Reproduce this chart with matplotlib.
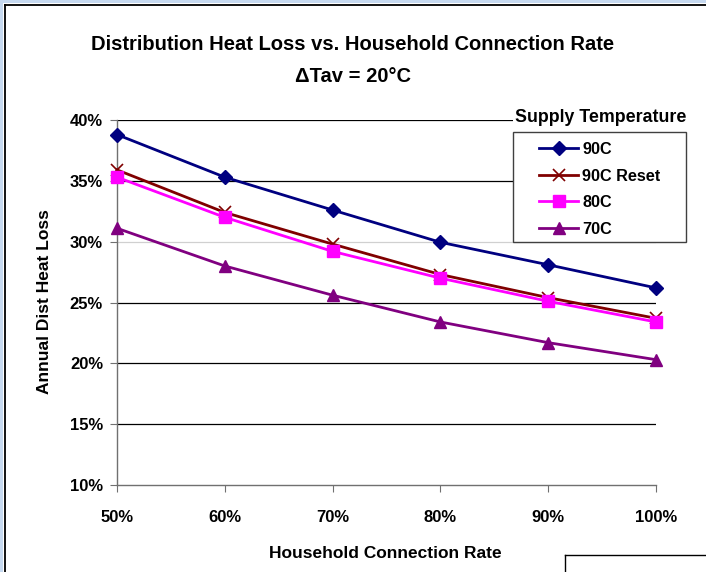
import matplotlib
matplotlib.use("Agg")
import matplotlib.pyplot as plt
from matplotlib.lines import Line2D
from matplotlib.patches import Rectangle

plt.rcParams['font.family'] = ['Liberation Sans', 'DejaVu Sans']

# connection rate (%)
rate = [50, 60, 70, 80, 90, 100]
# annual distribution heat loss (%)
loss_90 = [38.8, 35.3, 32.6, 29.95, 28.1, 26.2]
loss_90r = [35.9, 32.4, 29.8, 27.3, 25.4, 23.7]
loss_80 = [35.3, 32.0, 29.2, 27.0, 25.1, 23.4]
loss_70 = [31.1, 28.0, 25.6, 23.4, 21.7, 20.3]
names = ["90C", "90C Reset", "80C", "70C"]
yticks = [10, 15, 20, 25, 30, 35, 40]

W, H = 706, 572
fig = plt.figure(figsize=(W / 100, H / 100), dpi=100)
ax = fig.add_axes([117 / W, 1 - 485 / H, (656 - 117) / W, (485 - 120) / H])

styles = [
    dict(color="#000080", marker="D", ms=7.5),
    dict(color="#800000", marker="x", ms=8, mew=1.2),
    dict(color="#ff00ff", marker="s", ms=8.5),
    dict(color="#800080", marker="^", ms=9),
]
lines = []
for ys, nm, st in zip([loss_90, loss_90r, loss_80, loss_70], names, styles):
    ln, = ax.plot(rate, ys, lw=2, label=nm, clip_on=False, zorder=3, **st)
    lines.append(ln)

ax.set_xlim(50, 100)
ax.set_ylim(10, 40)
ax.set_xticks(rate)
ax.set_xticklabels([f"{r}%" for r in rate])
ax.set_yticks(yticks)
ax.set_yticklabels([f"{t}%" for t in yticks])

for t in yticks[1:]:
    c = "#d0d0d0" if t == 30 else "black"
    ax.axhline(t, color=c, lw=0.9, zorder=1)

for s in ["top", "right"]:
    ax.spines[s].set_visible(False)
for s in ["left", "bottom"]:
    ax.spines[s].set_color("#707070")
    ax.spines[s].set_linewidth(1)
ax.tick_params(direction="out", length=5, color="#707070", labelsize=12, pad=5)
ax.tick_params(axis="x", pad=13)
for lab in ax.get_xticklabels() + ax.get_yticklabels():
    lab.set_fontweight("bold")

fig.text(45 / W, 1 - 302 / H, "Annual Dist Heat Loss", ha="center", va="center",
         rotation=90, fontsize=12.5, fontweight="bold")
fig.text(385 / W, 1 - 553 / H, "Household Connection Rate", ha="center", va="center",
         fontsize=12.5, fontweight="bold")

fig.text(353 / W, 1 - 45 / H, "Distribution Heat Loss vs. Household Connection Rate",
         ha="center", va="center", fontsize=14.5, fontweight="bold")
fig.text(353 / W, 1 - 76 / H, "\u0394Tav = 20\u00b0C", ha="center", va="center",
         fontsize=14.5, fontweight="bold")

# legend box drawn over the grid, entries on top
fig.add_artist(Rectangle((513 / W, 1 - 242 / H), (686 - 513) / W, 110 / H,
                         transform=fig.transFigure, facecolor="white",
                         edgecolor="#404040", lw=1, zorder=2))
fig.legend(lines, names, loc="upper left", bbox_to_anchor=(539 / W, 1 - 142 / H),
           bbox_transform=fig.transFigure, borderaxespad=0, borderpad=0,
           frameon=False, handlelength=2.4, handletextpad=0.25,
           prop=dict(size=11.7, weight="bold"), labelspacing=0.71)
fig.text(601 / W, 1 - 118 / H, "Supply Temperature", ha="center", va="center",
         fontsize=12.8, fontweight="bold",
         bbox=dict(facecolor="white", edgecolor="none", pad=1.5), zorder=6)

# window frame
fig.add_artist(Rectangle((0, 1 - 3 / H), 1, 3 / H, transform=fig.transFigure,
                         color="#c6d9f0", lw=0))
fig.add_artist(Rectangle((0, 0), 3 / W, 1, transform=fig.transFigure,
                         color="#c6d9f0", lw=0))
fig.add_artist(Line2D([4.5 / W, 1], [1 - 4.5 / H, 1 - 4.5 / H], color="black", lw=1.3))
fig.add_artist(Line2D([4.5 / W, 4.5 / W], [0, 1 - 4.5 / H], color="black", lw=1.3))
fig.add_artist(Line2D([565 / W, 1], [1 - 555 / H, 1 - 555 / H], color="black", lw=1))
fig.add_artist(Line2D([565 / W, 565 / W], [0, 1 - 555 / H], color="black", lw=1))

fig.savefig("out.png", dpi=100)
